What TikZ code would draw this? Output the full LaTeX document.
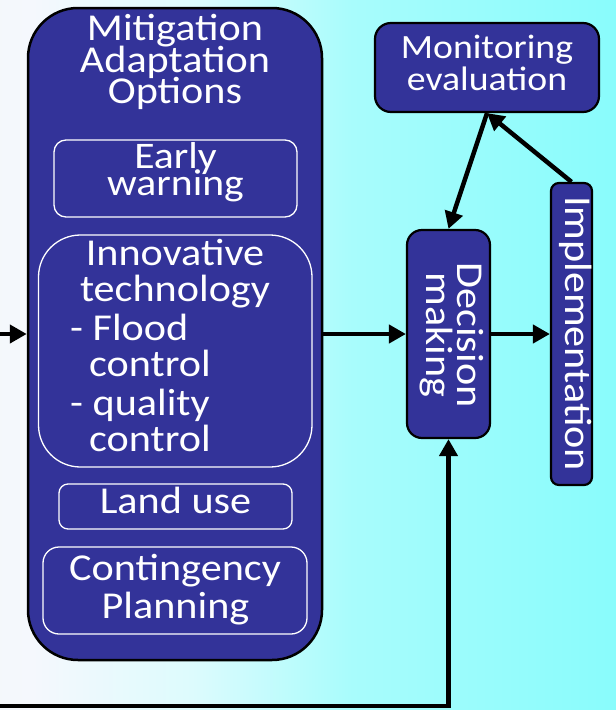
\documentclass[tikz,border=0pt]{standalone}
\usepackage{fontspec}
\setmainfont{Carlito}[FakeStretch=1.11]
\usetikzlibrary{arrows.meta}
\definecolor{boxblue}{HTML}{333399}
\definecolor{bgA}{HTML}{E8F9EC}
\definecolor{bgB}{HTML}{F5F8FD}
\definecolor{bgC}{HTML}{DDFBFD}
\definecolor{bgD}{HTML}{A8FCFC}
\definecolor{bgE}{HTML}{8CFCFC}
\definecolor{bgF}{HTML}{66FFFF}
\pgfdeclarehorizontalshading{bgshade}{100bp}{color(0bp)=(bgA); color(27.6bp)=(bgB); color(40.6bp)=(bgC); color(53.6bp)=(bgD); color(73bp)=(bgE); color(100bp)=(bgF)}
\begin{document}
\begin{tikzpicture}[x=1pt,y=-1pt,
  outerbox/.style={draw=black,line width=2.2pt,fill=boxblue,inner sep=0pt},
  innerbox/.style={draw=white,line width=1.3pt,fill=boxblue,inner sep=0pt},
  lbl/.style={text=white,inner sep=0pt,anchor=base,font=\fontsize{38}{38}\selectfont},
  conn/.style={draw=black,line width=4.5pt,line join=miter,-{Triangle[length=17pt,width=18pt]}}]
\useasboundingbox (0,0) rectangle (616,710);
\fill[shading=bgshade] (0,0) rectangle (616,710);

% main box
\node[outerbox,line width=2.5pt,rounded corners=50pt,minimum width=294pt,minimum height=652pt] (big) at (175,334) {};
\node[lbl] (tMit) at (175,40.5) {Mitigation};
\node[lbl] (tAda) at (175,72) {Adaptation};
\node[lbl] (tOpt) at (175,103.5) {Options};

\node[innerbox,rounded corners=12pt,minimum width=243pt,minimum height=77pt] (early) at (175.5,178.5) {};
\node[lbl,font=\fontsize{37.5}{38}\selectfont] (tEar) at (175.5,168) {Early};
\node[lbl,font=\fontsize{37.5}{38}\selectfont] (tWar) at (175.5,195) {warning};

\node[innerbox,rounded corners=42pt,minimum width=273.5pt,minimum height=232pt] (innov) at (175.25,351) {};
\node[lbl] (tInn) at (175,265) {Innovative};
\node[lbl] (tTec) at (175,301.5) {technology};
\node[lbl,anchor=base west] (tFlo) at (70,340) {- Flood};
\node[lbl,anchor=base west] (tCo1) at (89,376.5) {control};
\node[lbl,anchor=base west] (tQua) at (70,415) {- quality};
\node[lbl,anchor=base west] (tCo2) at (89,451.5) {control};

\node[innerbox,rounded corners=9pt,minimum width=233pt,minimum height=45pt] (land) at (175.5,506.5) {};
\node[lbl] (tLan) at (175.5,513) {Land use};

\node[innerbox,rounded corners=16pt,minimum width=264pt,minimum height=87pt] (cont) at (175,590.5) {};
\node[lbl] (tCon) at (175,580) {Contingency};
\node[lbl] (tPla) at (175.5,618) {Planning};

% right side
\node[outerbox,rounded corners=16pt,minimum width=224pt,minimum height=89pt] (mon) at (487,67.5) {};
\node[lbl,font=\fontsize{34}{34}\selectfont] (tMon) at (487,58) {Monitoring};
\node[lbl,font=\fontsize{34}{34}\selectfont] (tEva) at (487,90) {evaluation};

\node[outerbox,rounded corners=15pt,minimum width=83pt,minimum height=208pt] (dec) at (448.5,334) {};
\node[lbl,rotate=-90] (tDec) at (457,335) {Decision};
\node[lbl,rotate=-90] (tMak) at (426,335) {making};

\node[outerbox,rounded corners=8pt,minimum width=41pt,minimum height=302pt] (imp) at (571.5,334) {};
\node[lbl,rotate=-90] (tImp) at (565,333.5) {Implementation};

% connectors
\coordinate (lin) at (0,334);
\coordinate (bl) at (-5,706);
\coordinate (bc) at (448.5,706);
\draw[conn] (lin) -- (big.west);
\draw[conn] (big.east) -- (dec.west);
\draw[conn] (dec.east) -- (imp.west);
\draw[conn] (imp.north) -- (mon.south);
\draw[conn] (mon.south) -- (dec.north);
\draw[conn] (bl) -- (bc) -- (dec.south);
\end{tikzpicture}
\end{document}
